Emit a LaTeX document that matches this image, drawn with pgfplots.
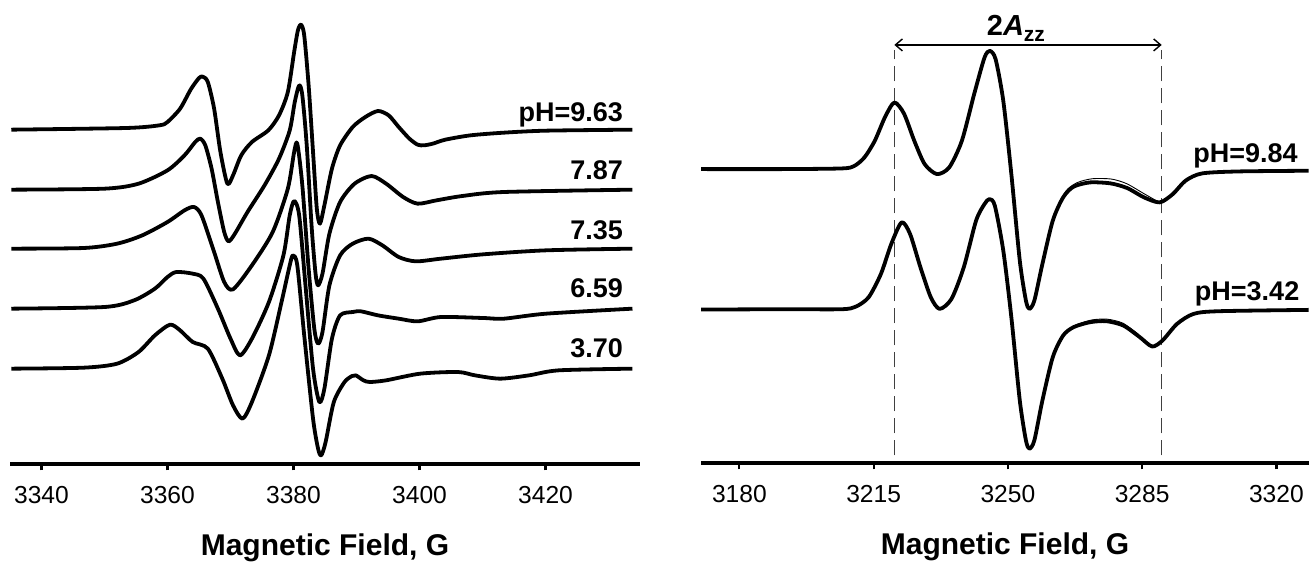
\documentclass[border=0pt]{standalone}
\usepackage{pgfplots}
\pgfplotsset{compat=1.18}
\usepackage{fontspec}
\setmainfont{Liberation Sans}
\usetikzlibrary{arrows.meta}

\begin{document}
\begin{tikzpicture}
\useasboundingbox (0,0) rectangle (654.5pt,281.5pt);
\pgfplotsset{
  eprax/.style={
    scale only axis, height=231pt,
    axis x line=bottom, axis y line=none,
    x axis line style={-, line width=1.6pt},
    ymin=0, ymax=1386, ytick=\empty,
    xtick align=outside,
    major tick length=3.2pt,
    every tick/.style={black, line width=1.1pt},
    /pgf/number format/assume math mode=true,
    x tick label style={/pgf/number format/1000 sep={}, font=\fontsize{12.3}{14}\selectfont, anchor=center, yshift=-12.5pt},
    xlabel={Magnetic Field, G},
    xlabel style={font=\fontsize{15}{18}\selectfont\bfseries, at={(axis description cs:0.5,0)}, anchor=center, yshift=-42pt},
    clip=false,
  },
  curve/.style={black, line width=1.9pt, smooth, tension=0.45, no markers, line join=round},
  thincurve/.style={black, line width=0.45pt, smooth, tension=0.45, no markers},
}
\tikzset{lab/.style={anchor=base east, font=\fontsize{13.5}{16}\selectfont\bfseries}}

% ---------------- left panel ----------------
\begin{axis}[eprax, at={(5pt,49.5pt)}, anchor=south west, width=315pt,
  xmin=3335, xmax=3435, xtick={3340,3360,3380,3400,3420}]
% pH = 9.63
\addplot[curve] coordinates {(3335.2,1003) (3353.4,1008) (3358.7,1016) (3360.0,1026) (3362.0,1066) (3363.7,1124) (3365.0,1158) (3365.6,1162) (3366.4,1146) (3367.4,1066) (3368.4,936) (3369.5,841) (3370.4,866) (3371.7,926) (3373.4,966) (3376.0,1001) (3377.7,1046) (3379.1,1116) (3380.1,1236) (3380.7,1301) (3381.2,1318) (3381.7,1286) (3382.4,1136) (3383.1,936) (3383.7,766) (3384.2,721) (3384.9,776) (3386.1,886) (3387.4,956) (3389.4,1011) (3391.4,1041) (3393.4,1059) (3395.1,1046) (3396.7,1011) (3398.4,976) (3399.7,958) (3400.7,956) (3402.1,961) (3404.1,973) (3408.1,986) (3413.4,994) (3420.1,1000) (3433.8,1003)};
% pH = 7.87
\addplot[curve] coordinates {(3335.2,823) (3350.0,826) (3355.4,841) (3360.0,881) (3362.7,926) (3364.4,966) (3365.2,976) (3366.0,956) (3367.0,886) (3368.0,786) (3369.0,696) (3369.7,668) (3370.7,691) (3372.7,756) (3375.4,836) (3377.7,916) (3379.4,1001) (3380.2,1086) (3380.9,1136) (3381.4,1106) (3382.1,956) (3382.9,706) (3383.5,571) (3383.9,536) (3384.6,571) (3385.7,691) (3387.4,786) (3389.7,841) (3392.4,864) (3394.7,841) (3397.4,801) (3399.7,781) (3402.7,791) (3406.8,804) (3413.4,816) (3433.8,823)};
% pH = 7.35
\addplot[curve] coordinates {(3335.2,646) (3346.7,648) (3352.0,661) (3356.0,686) (3360.0,726) (3362.7,761) (3364.2,771) (3365.4,746) (3367.4,636) (3369.0,546) (3370.4,524) (3373.4,596) (3376.7,696) (3379.1,826) (3380.1,936) (3380.6,961) (3381.4,836) (3382.4,586) (3383.3,406) (3383.9,361) (3384.6,396) (3385.7,536) (3387.4,626) (3389.4,661) (3391.9,676) (3394.1,656) (3396.7,621) (3399.4,608) (3403.4,616) (3410.1,629) (3420.1,641) (3433.8,646)};
% pH = 6.59
\addplot[curve] coordinates {(3335.2,466) (3350.0,471) (3354.7,491) (3358.0,526) (3360.0,561) (3361.4,576) (3364.0,571) (3365.7,556) (3368.0,466) (3370.0,376) (3371.5,326) (3373.4,376) (3376.1,486) (3378.4,626) (3379.4,746) (3380.1,789) (3380.9,746) (3381.9,536) (3383.1,286) (3384.1,186) (3384.9,226) (3386.1,376) (3387.4,446) (3389.4,456) (3390.7,458) (3393.4,446) (3396.7,436) (3399.7,428) (3403.4,441) (3410.1,438) (3413.4,436) (3420.1,451) (3433.8,466)};
% pH = 3.70
\addplot[curve] coordinates {(3335.2,286) (3346.7,289) (3352.0,301) (3355.4,336) (3358.0,386) (3360.4,418) (3362.0,401) (3364.0,366) (3366.4,346) (3368.7,256) (3370.4,176) (3371.9,136) (3373.4,186) (3376.1,326) (3378.1,486) (3379.4,596) (3379.9,626) (3380.6,596) (3381.7,386) (3383.1,136) (3383.9,46) (3384.4,26) (3385.1,66) (3386.4,186) (3388.1,246) (3389.3,264) (3389.9,266) (3391.1,251) (3392.1,246) (3394.7,251) (3400.1,271) (3406.1,276) (3408.8,266) (3412.8,256) (3417.4,266) (3422.1,281) (3433.8,286)};
\node[lab] at (axis cs:3433.4,1026) {pH=9.63};
\node[lab] at (axis cs:3433.4,852) {7.87};
\node[lab] at (axis cs:3433.4,675) {7.35};
\node[lab] at (axis cs:3433.4,501) {6.59};
\node[lab] at (axis cs:3433.4,321) {3.70};
\end{axis}

% ---------------- right panel ----------------
\begin{axis}[eprax, at={(350.5pt,50pt)}, anchor=south west, width=304pt,
  xmin=3170, xmax=3328.5, ymax=1388, xtick={3180,3215,3250,3285,3320}]
% dashed guide lines
\addplot[black!75, line width=0.6pt, dash pattern=on 7.5pt off 3.5pt] coordinates {(3220.4,23) (3220.4,1240)};
\addplot[black!75, line width=0.6pt, dash pattern=on 7.5pt off 3.5pt] coordinates {(3290.1,23) (3290.1,1240)};
% pH = 9.84
\addplot[curve] coordinates {(3170,883) (3191.6,883) (3206.7,885) (3209.9,892) (3212.6,918) (3215.3,968) (3218.0,1040) (3220.4,1083) (3222.9,1050) (3225.6,968) (3228.3,898) (3231.5,868) (3234.7,888) (3238.0,968) (3241.2,1108) (3243.9,1218) (3245.3,1238) (3246.8,1213) (3248.8,1088) (3250.9,868) (3253.1,608) (3254.7,488) (3255.6,463) (3256.9,488) (3259.0,598) (3261.7,728) (3264.4,798) (3267.1,830) (3271.4,843) (3276.8,840) (3281.1,826) (3285.5,798) (3289.6,783) (3293.0,808) (3296.3,848) (3300.6,870) (3310.3,876) (3328.4,878)};
\addplot[thincurve] coordinates {(3262,742) (3265,815) (3268,842) (3272,854) (3277,853) (3281,839) (3285.5,809) (3289,786)};
% pH = 3.42
\addplot[curve] coordinates {(3170,461) (3191.6,462) (3206.7,462) (3210.4,470) (3213.7,498) (3216.9,568) (3219.6,658) (3222.3,723) (3224.5,688) (3227.2,588) (3229.9,498) (3232.2,463) (3235.3,493) (3238.5,588) (3241.7,728) (3243.9,778) (3245.2,793) (3246.6,773) (3248.8,638) (3250.9,438) (3253.1,188) (3254.7,68) (3255.6,43) (3256.9,68) (3259.0,188) (3261.7,318) (3264.4,383) (3267.1,408) (3271.4,423) (3275.7,426) (3280.1,413) (3284.4,378) (3287.6,350) (3290.3,368) (3294.1,418) (3298.4,448) (3304.9,456) (3328.4,460)};
\addplot[thincurve] coordinates {(3265,392) (3268,416) (3272,430) (3276,432) (3280,420) (3284,387)};
% 2Azz arrow
\draw[{Straight Barb[length=3.5pt,width=6pt]}-{Straight Barb[length=3.5pt,width=6pt]}, line width=0.7pt] (axis cs:3220.4,1256) -- (axis cs:3290.1,1256);
\node[anchor=base, font=\fontsize{14.5}{16}\selectfont\bfseries] at (axis cs:3252.1,1283) {2\textit{A}\raisebox{-0.35ex}{\fontsize{10.5}{11}\selectfont zz}};
\node[lab] at (axis cs:3327.4,903) {pH=9.84};
\node[lab] at (axis cs:3327.8,488) {pH=3.42};
\end{axis}
\end{tikzpicture}
\end{document}
